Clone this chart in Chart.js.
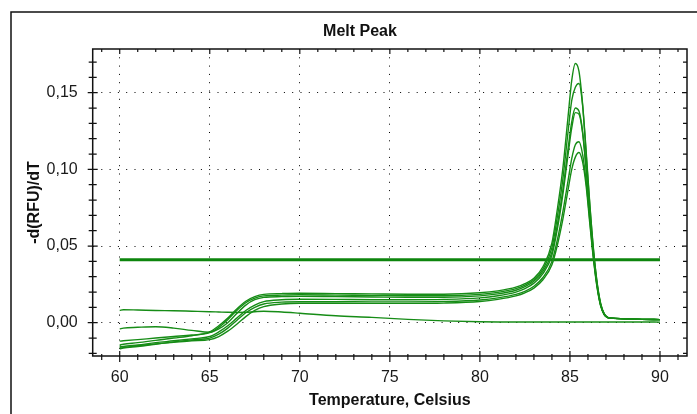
<!DOCTYPE html>
<html>
<head>
<meta charset="utf-8">
<script src="https://cdn.jsdelivr.net/npm/chart.js@4.4.1/dist/chart.umd.min.js"></script>
<style>
  html, body { margin: 0; padding: 0; background: #fff; }
  canvas { display: block; }
</style>
</head>
<body>
<canvas id="chart" width="697" height="414"></canvas>
<script>
// melt curve temperatures (Celsius)
const temps = [60, 60.2, 61, 62, 63, 64, 65, 65.5, 66, 66.5, 67, 67.5, 68, 69, 70, 72, 74, 76, 78, 80,
	81, 82, 82.5, 83, 83.5, 84, 84.3, 84.6, 84.9, 85.1, 85.3, 85.5, 85.7, 85.9, 86.1, 86.3, 86.5, 86.7,
	86.9, 87.1, 87.3, 88, 89, 90];

// -d(RFU)/dT per well
const well1 = [-0.0145, -0.0140, -0.0130, -0.0115, -0.0100, -0.0085, -0.0060, -0.0020, 0.0030, 0.0090,
	0.0140, 0.0170, 0.0185, 0.0190, 0.0192, 0.0190, 0.0188, 0.0186, 0.0186, 0.0195,
	0.0208, 0.0232, 0.0255, 0.0290, 0.0365, 0.0520, 0.0740, 0.1000, 0.1350, 0.1580,
	0.1690, 0.1640, 0.1430, 0.1120, 0.0780, 0.0490, 0.0270, 0.0130, 0.0060, 0.0035,
	0.0030, 0.0025, 0.0022, 0.0020];
const well2 = [-0.0120, -0.0118, -0.0110, -0.0100, -0.0090, -0.0080, -0.0065, -0.0030, 0.0020, 0.0080,
	0.0130, 0.0160, 0.0175, 0.0180, 0.0182, 0.0180, 0.0178, 0.0176, 0.0176, 0.0185,
	0.0198, 0.0222, 0.0245, 0.0280, 0.0350, 0.0490, 0.0690, 0.0930, 0.1250, 0.1450,
	0.1535, 0.1560, 0.1420, 0.1100, 0.0770, 0.0480, 0.0265, 0.0125, 0.0058, 0.0035,
	0.0030, 0.0026, 0.0022, 0.0020];
const well3 = [-0.0040, -0.0035, -0.0030, -0.0026, -0.0035, -0.0050, -0.0062, -0.0040, 0.0000, 0.0060,
	0.0115, 0.0150, 0.0165, 0.0170, 0.0172, 0.0170, 0.0168, 0.0166, 0.0166, 0.0175,
	0.0188, 0.0212, 0.0235, 0.0270, 0.0335, 0.0460, 0.0640, 0.0860, 0.1140, 0.1310,
	0.1400, 0.1380, 0.1250, 0.1010, 0.0720, 0.0455, 0.0255, 0.0120, 0.0056, 0.0034,
	0.0030, 0.0026, 0.0022, 0.0020];
const well4 = [-0.0160, -0.0155, -0.0145, -0.0130, -0.0118, -0.0105, -0.0090, -0.0060, -0.0020, 0.0030,
	0.0080, 0.0115, 0.0138, 0.0150, 0.0153, 0.0152, 0.0150, 0.0150, 0.0152, 0.0162,
	0.0176, 0.0200, 0.0222, 0.0258, 0.0320, 0.0440, 0.0610, 0.0830, 0.1100, 0.1270,
	0.1370, 0.1360, 0.1240, 0.1000, 0.0710, 0.0450, 0.0250, 0.0118, 0.0055, 0.0034,
	0.0030, 0.0026, 0.0022, 0.0020];
const well5 = [-0.0170, -0.0165, -0.0155, -0.0140, -0.0125, -0.0112, -0.0100, -0.0075, -0.0035, 0.0015,
	0.0065, 0.0100, 0.0122, 0.0134, 0.0137, 0.0137, 0.0136, 0.0136, 0.0138, 0.0148,
	0.0162, 0.0185, 0.0205, 0.0238, 0.0295, 0.0400, 0.0540, 0.0720, 0.0930, 0.1070,
	0.1160, 0.1180, 0.1100, 0.0920, 0.0670, 0.0430, 0.0240, 0.0115, 0.0054, 0.0034,
	0.0030, 0.0026, 0.0022, 0.0020];
const well6 = [-0.0150, -0.0160, -0.0150, -0.0138, -0.0128, -0.0118, -0.0110, -0.0090, -0.0055, -0.0010,
	0.0040, 0.0080, 0.0105, 0.0122, 0.0127, 0.0127, 0.0126, 0.0126, 0.0128, 0.0138,
	0.0152, 0.0175, 0.0195, 0.0226, 0.0280, 0.0378, 0.0505, 0.0670, 0.0870, 0.1000,
	0.1080, 0.1110, 0.1050, 0.0890, 0.0650, 0.0420, 0.0235, 0.0112, 0.0053, 0.0034,
	0.0030, 0.0026, 0.0022, 0.0020];
const ntc = [0.0080, 0.0085, 0.0083, 0.0080, 0.0078, 0.0075, 0.0072, 0.0070, 0.0068, 0.0067,
	0.0068, 0.0072, 0.0075, 0.0070, 0.0062, 0.0045, 0.0035, 0.0022, 0.0012, 0.0006,
	0.0005, 0.0005, 0.0005, 0.0005, 0.0005, 0.0005, 0.0005, 0.0005, 0.0005, 0.0005,
	0.0005, 0.0005, 0.0005, 0.0005, 0.0005, 0.0005, 0.0005, 0.0005, 0.0005, 0.0005,
	0.0005, 0.0005, 0.0005, 0.0004];

const threshold = 0.041;
const thresholdRange = [60, 90];

const xTicks = [60, 65, 70, 75, 80, 85, 90];
const yTicks = [0, 0.05, 0.10, 0.15];

const FONT = "'Liberation Sans', Arial, sans-serif";
const GREEN = '#168c16';

const toPoints = arr => temps.map((t, i) => ({x: t, y: arr[i]}));

const wells = [well1, well2, well3, well4, well5, well6, ntc];
const datasets = wells.map(w => ({
	data: toPoints(w),
	borderColor: GREEN,
	borderWidth: 1.4,
	pointRadius: 0,
	cubicInterpolationMode: 'monotone',
}));
datasets.push({
	data: thresholdRange.map(t => ({x: t, y: threshold})),
	borderColor: '#0d850d',
	borderWidth: 3,
	pointRadius: 0,
});

// frame, minor ticks, titles
const frame = {
	id: 'frame',
	beforeDraw(chart) {
		const ctx = chart.ctx;
		ctx.save();
		ctx.fillStyle = '#fff';
		ctx.fillRect(0, 0, chart.width, chart.height);
		ctx.restore();
	},
	afterDraw(chart) {
		const {ctx, chartArea: a, scales: {x, y}} = chart;
		ctx.save();
		ctx.strokeStyle = '#111';
		ctx.lineWidth = 1.5;
		// outer panel
		ctx.beginPath();
		ctx.moveTo(11, chart.height);
		ctx.lineTo(11, 12);
		ctx.lineTo(chart.width, 12);
		ctx.stroke();
		// plot frame
		ctx.strokeRect(a.left, a.top, a.right - a.left, a.bottom - a.top);

		ctx.lineWidth = 1.2;
		ctx.beginPath();
		for (let t = 59; t <= 91; t++) {
			const px = x.getPixelForValue(t);
			const major = t % 5 === 0;
			ctx.moveTo(px, a.bottom - (major ? 5 : 2));
			ctx.lineTo(px, a.bottom + (major ? 6 : 4));
			ctx.moveTo(px, a.top);
			ctx.lineTo(px, a.top + (major ? 5 : 3));
		}
		for (let k = -2; k <= 17; k++) {
			const py = y.getPixelForValue(k / 100);
			const major = k % 5 === 0;
			ctx.moveTo(a.left - (major ? 5 : 4), py);
			ctx.lineTo(a.left + (major ? 5 : 4), py);
			ctx.moveTo(a.right, py);
			ctx.lineTo(a.right - (major ? 5 : 4), py);
		}
		ctx.stroke();

		ctx.fillStyle = '#111';
		ctx.font = 'bold 16px ' + FONT;
		ctx.textAlign = 'center';
		ctx.textBaseline = 'middle';
		ctx.fillText('Melt Peak', 360, 32);
		ctx.restore();
	}
};

const chart = new Chart(document.getElementById('chart'), {
	type: 'line',
	data: {datasets: datasets},
	plugins: [frame],
	options: {
		responsive: false,
		animation: false,
		layout: {padding: {top: 49, right: 10, bottom: 0, left: 0}},
		plugins: {
			legend: {display: false},
			title: {display: false},
			tooltip: {enabled: false},
		},
		scales: {
			x: {
				type: 'linear',
				min: 58.5,
				max: 91.5,
				afterBuildTicks: s => { s.ticks = xTicks.map(v => ({value: v})); },
				afterFit: s => { s.height = 58; },
				ticks: {
					color: '#1a1a1a',
					font: {family: FONT, size: 16},
					padding: 12,
					maxRotation: 0,
					callback: v => String(v),
				},
				grid: {color: '#000', lineWidth: 1, drawTicks: false},
				border: {display: false, dash: [1, 7.3]},
				title: {
					display: true,
					text: 'Temperature, Celsius',
					color: '#111',
					font: {family: FONT, size: 16, weight: 'bold'},
					padding: {top: 0, bottom: 3.5},
				},
			},
			y: {
				min: -0.0217,
				max: 0.1785,
				afterBuildTicks: s => { s.ticks = yTicks.map(v => ({value: v})); },
				afterFit: s => { s.width = 92.7; },
				ticks: {
					color: '#1a1a1a',
					font: {family: FONT, size: 16},
					padding: 15,
					callback: v => v.toFixed(2).replace('.', ','),
				},
				grid: {color: '#000', lineWidth: 1, drawTicks: false},
				border: {display: false, dash: [1, 7.3]},
				title: {
					display: true,
					text: '-d(RFU)/dT',
					color: '#111',
					font: {family: FONT, size: 16, weight: 'bold'},
					padding: {top: 25.4, bottom: 0},
				},
			},
		},
	},
});
</script>
</body>
</html>
